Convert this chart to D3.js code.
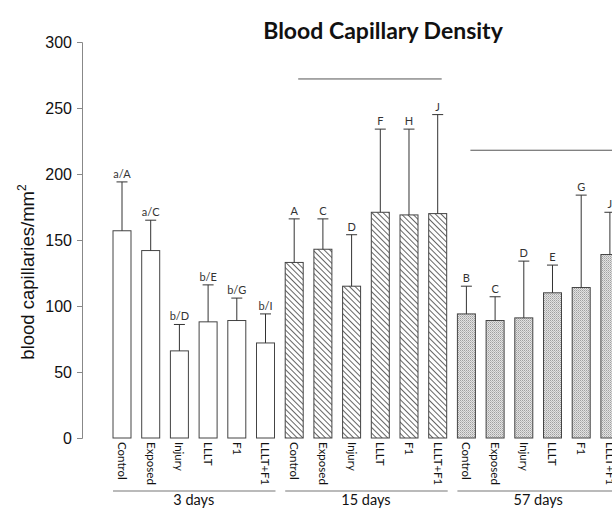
<!DOCTYPE html>
<html><head><meta charset="utf-8">
<script src="https://cdn.jsdelivr.net/npm/d3@7"></script>
<style>html,body{margin:0;padding:0;background:#fff;overflow:hidden}</style>
</head><body><div id="chart"></div>
<script>
const categories = ["Control","Exposed","Injury","LLLT","F1","LLLT+F1"];
const groups = ["3 days","15 days","57 days"];
const means3 = [157,142,66,88,89,72];
const errs3 = [37,23,20,28,17,22];
const means15 = [133,143,115,171,169,170];
const errs15 = [33,23,39,63,65,75];
const means57 = [94,89,91,110,114,139];
const errs57 = [21,18,43,21,70,32];
const letters3 = ["a/A","a/C","b/D","b/E","b/G","b/I"];
const letters15 = ["A","C","D","F","H","J"];
const letters57 = ["B","C","D","E","G","J"];
const sigGroups = ["15 days","57 days"];
const sigValues = [272,218];
const yTicks = [0,50,100,150,200,250,300];

const W = 612, H = 510;
const svg = d3.select("#chart").append("svg").attr("width",W).attr("height",H)
  .style("font-family","Lato, 'Open Sans', sans-serif");

const defs = svg.append("defs");
const hatch = defs.append("pattern").attr("id","hatch").attr("patternUnits","userSpaceOnUse")
  .attr("width",4).attr("height",4).attr("patternTransform","rotate(-45)");
hatch.append("rect").attr("width",4).attr("height",4).attr("fill","#fff");
hatch.append("line").attr("x1",0.5).attr("y1",0).attr("x2",0.5).attr("y2",4)
  .attr("stroke","#555").attr("stroke-width",0.9);
const dots = defs.append("pattern").attr("id","dots").attr("patternUnits","userSpaceOnUse")
  .attr("width",2).attr("height",2);
dots.append("rect").attr("width",2).attr("height",2).attr("fill","#e2e2e2");
dots.append("rect").attr("width",1).attr("height",1).attr("fill","#a0a0a0");
dots.append("rect").attr("x",1).attr("y",1).attr("width",1).attr("height",1).attr("fill","#bcbcbc");

const fills = ["#fff","url(#hatch)","url(#dots)"];
const meansAll = [means3,means15,means57];
const errsAll = [errs3,errs15,errs57];
const lettersAll = [letters3,letters15,letters57];

const data = [];
groups.forEach((g,gi)=>categories.forEach((c,ci)=>{
  data.push({key:g+"|"+c, group:g, gi, cat:c, mean:meansAll[gi][ci], err:errsAll[gi][ci], letter:lettersAll[gi][ci]});
}));

const y = d3.scaleLinear().domain([0,300]).range([438,42]);
const x = d3.scaleBand().domain(data.map(d=>d.key)).range([102.3,629.6]).paddingInner(0.373).paddingOuter(0.373);

// Y axis
const yAxis = svg.append("g").attr("transform","translate(82,0)")
  .call(d3.axisLeft(y).tickValues(yTicks).tickSize(5).tickPadding(5));
yAxis.select(".domain").attr("stroke","#888");
yAxis.selectAll(".tick line").attr("stroke","#888");
yAxis.selectAll(".tick text").style("font-family","'Liberation Sans', Arial, sans-serif")
  .style("font-size","16px").attr("fill","#111");

// Y title
const yt = svg.append("text").attr("transform","translate(34,272) rotate(-90)")
  .attr("text-anchor","middle").style("font-family","'Liberation Sans', Arial, sans-serif")
  .style("font-size","18.5px").attr("fill","#111");
yt.append("tspan").text("blood capillaries/mm");
yt.append("tspan").attr("dy","-8").style("font-size","12px").text("2");

// Title
svg.append("text").attr("x",383).attr("y",39).attr("text-anchor","middle")
  .style("font-weight","bold").style("font-size","23px").attr("fill","#111")
  .text("Blood Capillary Density");

// Bars
svg.append("g").selectAll("rect").data(data).join("rect")
  .attr("x",d=>x(d.key)).attr("y",d=>y(d.mean))
  .attr("width",x.bandwidth()).attr("height",d=>y(0)-y(d.mean))
  .attr("fill",d=>fills[d.gi]).attr("stroke","#444").attr("stroke-width",1);

// Error bars
const eb = svg.append("g").attr("stroke","#333").attr("stroke-width",1);
eb.selectAll("line.v").data(data).join("line").attr("class","v")
  .attr("x1",d=>x(d.key)+x.bandwidth()/2).attr("x2",d=>x(d.key)+x.bandwidth()/2)
  .attr("y1",d=>y(d.mean)).attr("y2",d=>y(d.mean+d.err));
eb.selectAll("line.c").data(data).join("line").attr("class","c")
  .attr("x1",d=>x(d.key)+x.bandwidth()/2-5.5).attr("x2",d=>x(d.key)+x.bandwidth()/2+5.5)
  .attr("y1",d=>y(d.mean+d.err)).attr("y2",d=>y(d.mean+d.err));

// Letters
svg.append("g").selectAll("text").data(data).join("text")
  .attr("x",d=>x(d.key)+x.bandwidth()/2).attr("y",d=>y(d.mean+d.err)-4)
  .attr("text-anchor","middle").style("font-size","11px").attr("fill","#333")
  .text(d=>d.letter);

// Category labels
svg.append("g").selectAll("text").data(data).join("text")
  .attr("transform",d=>`translate(${x(d.key)+x.bandwidth()/2},442) rotate(90)`)
  .attr("dy","0.35em").style("font-size","11.5px").attr("fill","#111")
  .text(d=>d.cat);

// Group lines and labels
groups.forEach((g,gi)=>{
  const first = x(g+"|"+categories[0]);
  const last = x(g+"|"+categories[categories.length-1]) + x.bandwidth();
  svg.append("line").attr("x1",first).attr("x2",last+1).attr("y1",491).attr("y2",491)
    .attr("stroke","#777").attr("stroke-width",1.2);
  svg.append("text").attr("x",(first+last)/2).attr("y",505).attr("text-anchor","middle")
    .style("font-size","14.5px").attr("fill","#111").text(g);
});

// Significance lines
sigGroups.forEach((g,i)=>{
  const c0 = x(g+"|"+categories[0]) + x.bandwidth()/2 + 4;
  const c1 = x(g+"|"+categories[categories.length-1]) + x.bandwidth()/2 + 4;
  svg.append("line").attr("x1",c0).attr("x2",c1).attr("y1",y(sigValues[i])).attr("y2",y(sigValues[i]))
    .attr("stroke","#555").attr("stroke-width",1);
});
</script></body></html>
